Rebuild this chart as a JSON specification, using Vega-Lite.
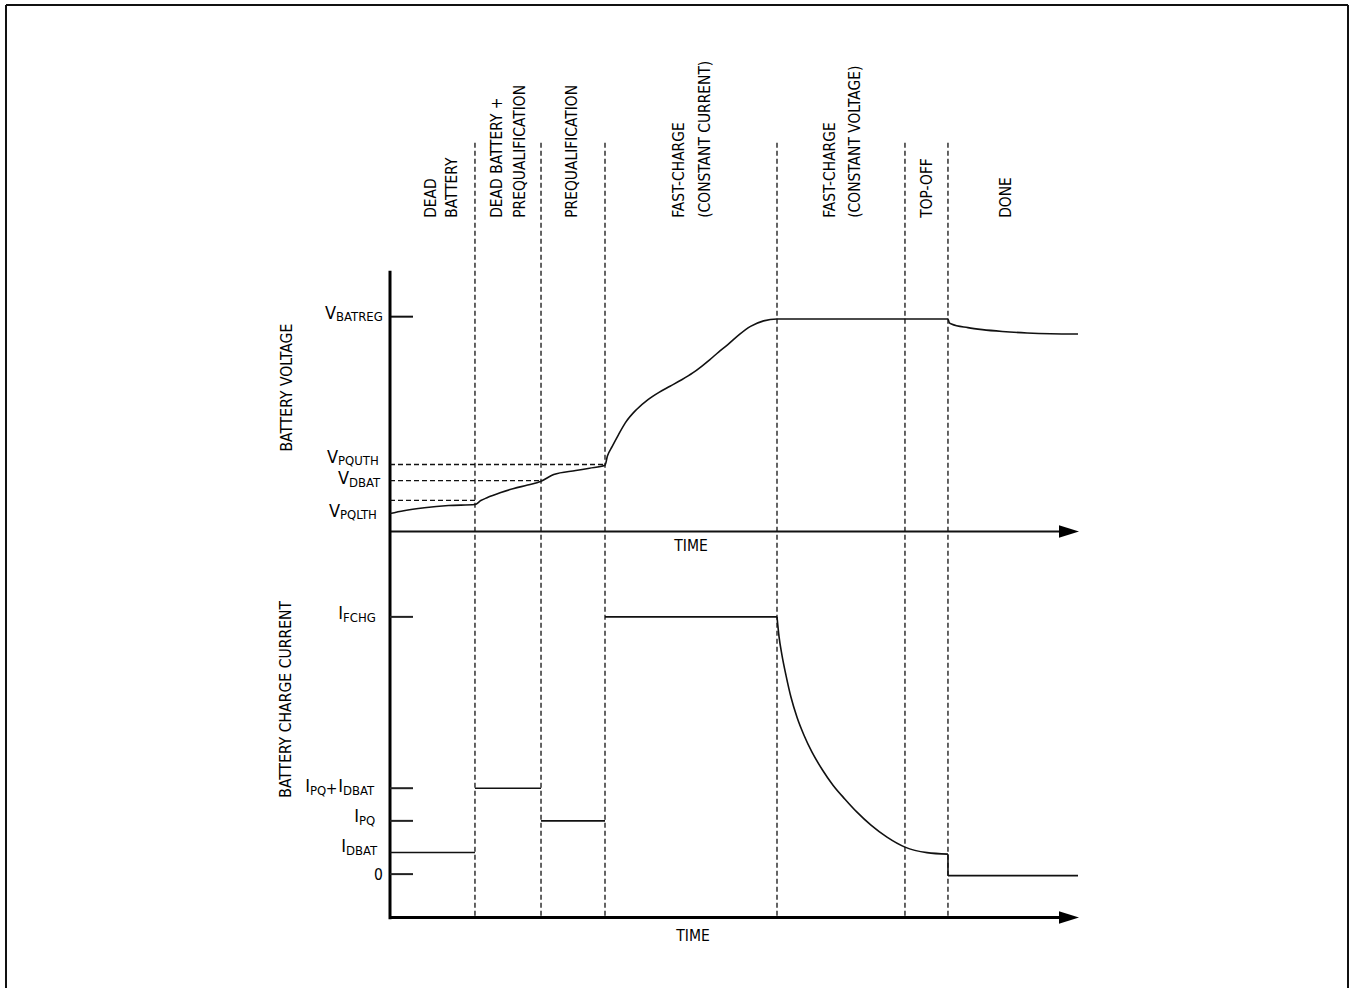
{
  "$schema": "https://vega.github.io/schema/vega-lite/v6.json",
  "width": 1351,
  "height": 989,
  "autosize": {"type": "fit", "contains": "padding"},
  "padding": 0,
  "background": "white",
  "config": {
    "view": {"stroke": null},
    "font": "Liberation Sans Narrow, DejaVu Sans Condensed, sans-serif"
  },
  "datasets": {
    "vsegs": [
      {"kind": "solid2", "t1": -55.814, "t2": -55.814, "v1": 7.4498, "v2": -2.7259},
      {"kind": "solid2", "t1": -55.814, "t2": 139.244, "v1": 7.4498, "v2": 7.4498},
      {"kind": "solid2", "t1": 139.244, "t2": 139.244, "v1": 7.4498, "v2": -2.7259},
      {"kind": "solid2", "t1": 0, "t2": 97.3, "v1": 2.0, "v2": 2.0},
      {"kind": "solid2", "t1": 0, "t2": 3.34, "v1": 4.2234, "v2": 4.2234},
      {"kind": "axis", "t1": 0, "t2": 0, "v1": 4.699, "v2": -2.015},
      {"kind": "dash", "t1": 12.35, "t2": 12.35, "v1": 6.0227, "v2": -1.9917},
      {"kind": "dash", "t1": 21.95, "t2": 21.95, "v1": 6.0227, "v2": -1.9917},
      {"kind": "dash", "t1": 31.25, "t2": 31.25, "v1": 6.0227, "v2": -1.9917},
      {"kind": "dash", "t1": 56.25, "t2": 56.25, "v1": 6.0227, "v2": -1.9917},
      {"kind": "dash", "t1": 74.85, "t2": 74.85, "v1": 6.0227, "v2": -1.9917},
      {"kind": "dash", "t1": 81.1, "t2": 81.1, "v1": 6.0227, "v2": -1.9917},
      {"kind": "dash", "t1": 0, "t2": 31.25, "v1": 2.693, "v2": 2.693},
      {"kind": "dash", "t1": 0, "t2": 21.95, "v1": 2.527, "v2": 2.527},
      {"kind": "dash", "t1": 0, "t2": 12.35, "v1": 2.321, "v2": 2.321}
    ],
    "isegs": [
      {"kind": "axis", "t1": 0, "t2": 97.3, "i1": -16.89, "i2": -16.89},
      {"kind": "tick", "t1": 0, "t2": 3.34, "i1": 100, "i2": 100},
      {"kind": "tick", "t1": 0, "t2": 3.34, "i1": 33.4, "i2": 33.4},
      {"kind": "tick", "t1": 0, "t2": 3.34, "i1": 20.7, "i2": 20.7},
      {"kind": "tick", "t1": 0, "t2": 3.34, "i1": 0, "i2": 0},
      {"kind": "level", "t1": 0, "t2": 12.35, "i1": 8.43, "i2": 8.43},
      {"kind": "level", "t1": 12.35, "t2": 21.95, "i1": 33.4, "i2": 33.4},
      {"kind": "level", "t1": 21.95, "t2": 31.25, "i1": 20.7, "i2": 20.7},
      {"kind": "level", "t1": 31.25, "t2": 56.25, "i1": 100, "i2": 100},
      {"kind": "level", "t1": 81.1, "t2": 81.1, "i1": 7.77, "i2": -0.6},
      {"kind": "level", "t1": 81.1, "t2": 100, "i1": -0.6, "i2": -0.6}
    ],
    "vcurve": [
      {"t": 0, "v": 2.186}, {"t": 2, "v": 2.215}, {"t": 5, "v": 2.245}, {"t": 8.5, "v": 2.268},
      {"t": 12.35, "v": 2.279}, {"t": 13.2, "v": 2.32}, {"t": 14.1, "v": 2.349}, {"t": 16, "v": 2.4},
      {"t": 18, "v": 2.445}, {"t": 20, "v": 2.48}, {"t": 21.95, "v": 2.52}, {"t": 23.8, "v": 2.589},
      {"t": 27, "v": 2.631}, {"t": 29, "v": 2.655}, {"t": 31.25, "v": 2.685}, {"t": 31.6, "v": 2.78},
      {"t": 32.3, "v": 2.88}, {"t": 33.2, "v": 3.0}, {"t": 34.2, "v": 3.124}, {"t": 35.8, "v": 3.26},
      {"t": 37.5, "v": 3.365}, {"t": 39.1, "v": 3.44}, {"t": 40.7, "v": 3.503}, {"t": 42.4, "v": 3.57},
      {"t": 44.0, "v": 3.641}, {"t": 45.3, "v": 3.71}, {"t": 46.5, "v": 3.779}, {"t": 47.8, "v": 3.86},
      {"t": 49.1, "v": 3.934}, {"t": 50.8, "v": 4.04}, {"t": 52.4, "v": 4.123}, {"t": 54.3, "v": 4.18},
      {"t": 56.25, "v": 4.2}, {"t": 74.85, "v": 4.2}, {"t": 81.1, "v": 4.2}, {"t": 81.3, "v": 4.16},
      {"t": 81.6, "v": 4.148}, {"t": 84, "v": 4.11}, {"t": 86.1, "v": 4.089}, {"t": 89, "v": 4.07},
      {"t": 92.6, "v": 4.055}, {"t": 96, "v": 4.047}, {"t": 100, "v": 4.044}
    ],
    "idecay": [
      {"t": 56.25, "i": 100}, {"t": 56.541, "i": 92.43}, {"t": 56.977, "i": 85.05}, {"t": 57.558, "i": 77.28},
      {"t": 58.285, "i": 68.74}, {"t": 59.157, "i": 60.97}, {"t": 60.174, "i": 53.98}, {"t": 61.337, "i": 47.38},
      {"t": 62.791, "i": 40.78}, {"t": 64.39, "i": 34.56}, {"t": 66.134, "i": 29.13}, {"t": 67.878, "i": 24.08},
      {"t": 69.913, "i": 19.03}, {"t": 72.238, "i": 14.37}, {"t": 74.855, "i": 10.49}, {"t": 78.052, "i": 8.35},
      {"t": 81.1, "i": 7.77}
    ],
    "varrow": [{"t": 98.69, "v": 2.0}],
    "iarrow": [{"t": 98.69, "i": -16.89}],
    "vlabels": [
      {"main": "V", "sub": "BATREG", "t": -7.849, "v": 4.254},
      {"main": "V", "sub": "PQUTH", "t": -7.558, "v": 2.765},
      {"main": "V", "sub": "DBAT", "t": -5.959, "v": 2.538},
      {"main": "V", "sub": "PQLTH", "t": -7.267, "v": 2.2017}
    ],
    "ilabels": [
      {"main": "I", "sub": "FCHG", "t": -6.831, "i": 100.97},
      {"main": "I", "sub": "PQ", "t": -11.628, "i": 33.79},
      {"main": "I", "sub": "DBAT", "t": -6.831, "i": 33.79},
      {"main": "I", "sub": "PQ", "t": -4.506, "i": 22.14},
      {"main": "I", "sub": "DBAT", "t": -6.395, "i": 10.49}
    ],
    "vtext": [{"txt": "TIME", "t": 43.75, "v": 1.85}],
    "itext": [
      {"txt": "TIME", "t": 44.04, "i": -23.88},
      {"txt": "+", "t": -8.503, "i": 33.0},
      {"txt": "0", "t": -1.672, "i": -0.39}
    ],
    "titles": [
      {"txt": "BATTERY VOLTAGE", "t": -14.97, "v": 3.489},
      {"txt": "BATTERY CHARGE CURRENT", "t": -15.12, "v": 0.2627}
    ],
    "phases": [
      {"txt": "DEAD", "t": 5.887, "v": 5.247},
      {"txt": "BATTERY", "t": 9.012, "v": 5.247},
      {"txt": "DEAD BATTERY +", "t": 15.552, "v": 5.247},
      {"txt": "PREQUALIFICATION", "t": 18.823, "v": 5.247},
      {"txt": "PREQUALIFICATION", "t": 26.381, "v": 5.247},
      {"txt": "FAST-CHARGE", "t": 42.078, "v": 5.247},
      {"txt": "(CONSTANT CURRENT)", "t": 45.785, "v": 5.247},
      {"txt": "FAST-CHARGE", "t": 64.026, "v": 5.247},
      {"txt": "(CONSTANT VOLTAGE)", "t": 67.515, "v": 5.247},
      {"txt": "TOP-OFF", "t": 78.052, "v": 5.247},
      {"txt": "DONE", "t": 89.535, "v": 5.247}
    ]
  },
  "resolve": {"scale": {"y": "independent"}},
  "layer": [
    {
      "data": {"name": "vsegs"},
      "transform": [{"filter": "datum.kind == 'solid2'"}],
      "mark": {"type": "rule", "strokeWidth": 2, "color": "#111"},
      "encoding": {
        "x": {"field": "t1", "type": "quantitative", "scale": {"domain": [-56.686, 139.68], "nice": false, "zero": false}, "axis": null},
        "x2": {"field": "t2"},
        "y": {"field": "v1", "type": "quantitative", "scale": {"domain": [-2.7259, 7.5015], "nice": false, "zero": false}, "axis": null},
        "y2": {"field": "v2"}
      }
    },
    {
      "data": {"name": "vsegs"},
      "transform": [{"filter": "datum.kind == 'axis'"}],
      "mark": {"type": "rule", "strokeWidth": 3, "color": "#000"},
      "encoding": {
        "x": {"field": "t1", "type": "quantitative", "scale": {"domain": [-56.686, 139.68], "nice": false, "zero": false}, "axis": null},
        "x2": {"field": "t2"},
        "y": {"field": "v1", "type": "quantitative", "scale": {"domain": [-2.7259, 7.5015], "nice": false, "zero": false}, "axis": null},
        "y2": {"field": "v2"}
      }
    },
    {
      "data": {"name": "vsegs"},
      "transform": [{"filter": "datum.kind == 'dash'"}],
      "mark": {"type": "rule", "strokeWidth": 1.3, "strokeDash": [5, 3], "color": "#111"},
      "encoding": {
        "x": {"field": "t1", "type": "quantitative", "scale": {"domain": [-56.686, 139.68], "nice": false, "zero": false}, "axis": null},
        "x2": {"field": "t2"},
        "y": {"field": "v1", "type": "quantitative", "scale": {"domain": [-2.7259, 7.5015], "nice": false, "zero": false}, "axis": null},
        "y2": {"field": "v2"}
      }
    },
    {
      "data": {"name": "vcurve"},
      "mark": {"type": "line", "interpolate": "monotone", "strokeWidth": 1.6, "color": "#111"},
      "encoding": {
        "x": {"field": "t", "type": "quantitative", "scale": {"domain": [-56.686, 139.68], "nice": false, "zero": false}, "axis": null},
        "y": {"field": "v", "type": "quantitative", "scale": {"domain": [-2.7259, 7.5015], "nice": false, "zero": false}, "axis": null}
      }
    },
    {
      "data": {"name": "isegs"},
      "transform": [{"filter": "datum.kind == 'axis'"}],
      "mark": {"type": "rule", "strokeWidth": 3, "color": "#000"},
      "encoding": {
        "x": {"field": "t1", "type": "quantitative", "scale": {"domain": [-56.686, 139.68], "nice": false, "zero": false}, "axis": null},
        "x2": {"field": "t2"},
        "y": {"field": "i1", "type": "quantitative", "scale": {"domain": [-44.272, 339.806], "nice": false, "zero": false}, "axis": null},
        "y2": {"field": "i2"}
      }
    },
    {
      "data": {"name": "isegs"},
      "transform": [{"filter": "datum.kind == 'tick'"}],
      "mark": {"type": "rule", "strokeWidth": 2, "color": "#222"},
      "encoding": {
        "x": {"field": "t1", "type": "quantitative", "scale": {"domain": [-56.686, 139.68], "nice": false, "zero": false}, "axis": null},
        "x2": {"field": "t2"},
        "y": {"field": "i1", "type": "quantitative", "scale": {"domain": [-44.272, 339.806], "nice": false, "zero": false}, "axis": null},
        "y2": {"field": "i2"}
      }
    },
    {
      "data": {"name": "isegs"},
      "transform": [{"filter": "datum.kind == 'level'"}],
      "mark": {"type": "rule", "strokeWidth": 1.6, "color": "#111"},
      "encoding": {
        "x": {"field": "t1", "type": "quantitative", "scale": {"domain": [-56.686, 139.68], "nice": false, "zero": false}, "axis": null},
        "x2": {"field": "t2"},
        "y": {"field": "i1", "type": "quantitative", "scale": {"domain": [-44.272, 339.806], "nice": false, "zero": false}, "axis": null},
        "y2": {"field": "i2"}
      }
    },
    {
      "data": {"name": "idecay"},
      "mark": {"type": "line", "interpolate": "monotone", "strokeWidth": 1.6, "color": "#111"},
      "encoding": {
        "x": {"field": "t", "type": "quantitative", "scale": {"domain": [-56.686, 139.68], "nice": false, "zero": false}, "axis": null},
        "y": {"field": "i", "type": "quantitative", "scale": {"domain": [-44.272, 339.806], "nice": false, "zero": false}, "axis": null}
      }
    },
    {
      "data": {"name": "varrow"},
      "mark": {"type": "point", "shape": "M-1,-0.62L1,0L-1,0.62Z", "size": 400, "filled": true, "color": "#000", "opacity": 1, "strokeWidth": 0},
      "encoding": {
        "x": {"field": "t", "type": "quantitative", "scale": {"domain": [-56.686, 139.68], "nice": false, "zero": false}, "axis": null},
        "y": {"field": "v", "type": "quantitative", "scale": {"domain": [-2.7259, 7.5015], "nice": false, "zero": false}, "axis": null}
      }
    },
    {
      "data": {"name": "iarrow"},
      "mark": {"type": "point", "shape": "M-1,-0.62L1,0L-1,0.62Z", "size": 400, "filled": true, "color": "#000", "opacity": 1, "strokeWidth": 0},
      "encoding": {
        "x": {"field": "t", "type": "quantitative", "scale": {"domain": [-56.686, 139.68], "nice": false, "zero": false}, "axis": null},
        "y": {"field": "i", "type": "quantitative", "scale": {"domain": [-44.272, 339.806], "nice": false, "zero": false}, "axis": null}
      }
    },
    {
      "data": {"name": "vlabels"},
      "mark": {"type": "text", "align": "right", "baseline": "middle", "fontSize": 18, "color": "#000"},
      "encoding": {
        "x": {"field": "t", "type": "quantitative", "scale": {"domain": [-56.686, 139.68], "nice": false, "zero": false}, "axis": null},
        "y": {"field": "v", "type": "quantitative", "scale": {"domain": [-2.7259, 7.5015], "nice": false, "zero": false}, "axis": null},
        "text": {"field": "main"}
      }
    },
    {
      "data": {"name": "vlabels"},
      "mark": {"type": "text", "align": "left", "baseline": "middle", "fontSize": 13, "dy": 3.5, "color": "#000"},
      "encoding": {
        "x": {"field": "t", "type": "quantitative", "scale": {"domain": [-56.686, 139.68], "nice": false, "zero": false}, "axis": null},
        "y": {"field": "v", "type": "quantitative", "scale": {"domain": [-2.7259, 7.5015], "nice": false, "zero": false}, "axis": null},
        "text": {"field": "sub"}
      }
    },
    {
      "data": {"name": "ilabels"},
      "mark": {"type": "text", "align": "right", "baseline": "middle", "fontSize": 18, "color": "#000"},
      "encoding": {
        "x": {"field": "t", "type": "quantitative", "scale": {"domain": [-56.686, 139.68], "nice": false, "zero": false}, "axis": null},
        "y": {"field": "i", "type": "quantitative", "scale": {"domain": [-44.272, 339.806], "nice": false, "zero": false}, "axis": null},
        "text": {"field": "main"}
      }
    },
    {
      "data": {"name": "ilabels"},
      "mark": {"type": "text", "align": "left", "baseline": "middle", "fontSize": 13, "dy": 3.5, "color": "#000"},
      "encoding": {
        "x": {"field": "t", "type": "quantitative", "scale": {"domain": [-56.686, 139.68], "nice": false, "zero": false}, "axis": null},
        "y": {"field": "i", "type": "quantitative", "scale": {"domain": [-44.272, 339.806], "nice": false, "zero": false}, "axis": null},
        "text": {"field": "sub"}
      }
    },
    {
      "data": {"name": "vtext"},
      "mark": {"type": "text", "align": "center", "baseline": "middle", "fontSize": 15.5, "color": "#000"},
      "encoding": {
        "x": {"field": "t", "type": "quantitative", "scale": {"domain": [-56.686, 139.68], "nice": false, "zero": false}, "axis": null},
        "y": {"field": "v", "type": "quantitative", "scale": {"domain": [-2.7259, 7.5015], "nice": false, "zero": false}, "axis": null},
        "text": {"field": "txt"}
      }
    },
    {
      "data": {"name": "itext"},
      "mark": {"type": "text", "align": "center", "baseline": "middle", "fontSize": 15.5, "color": "#000"},
      "encoding": {
        "x": {"field": "t", "type": "quantitative", "scale": {"domain": [-56.686, 139.68], "nice": false, "zero": false}, "axis": null},
        "y": {"field": "i", "type": "quantitative", "scale": {"domain": [-44.272, 339.806], "nice": false, "zero": false}, "axis": null},
        "text": {"field": "txt"}
      }
    },
    {
      "data": {"name": "titles"},
      "mark": {"type": "text", "align": "center", "baseline": "middle", "angle": 270, "fontSize": 15.6, "color": "#000"},
      "encoding": {
        "x": {"field": "t", "type": "quantitative", "scale": {"domain": [-56.686, 139.68], "nice": false, "zero": false}, "axis": null},
        "y": {"field": "v", "type": "quantitative", "scale": {"domain": [-2.7259, 7.5015], "nice": false, "zero": false}, "axis": null},
        "text": {"field": "txt"}
      }
    },
    {
      "data": {"name": "phases"},
      "mark": {"type": "text", "align": "left", "baseline": "middle", "angle": 270, "fontSize": 15.4, "color": "#000"},
      "encoding": {
        "x": {"field": "t", "type": "quantitative", "scale": {"domain": [-56.686, 139.68], "nice": false, "zero": false}, "axis": null},
        "y": {"field": "v", "type": "quantitative", "scale": {"domain": [-2.7259, 7.5015], "nice": false, "zero": false}, "axis": null},
        "text": {"field": "txt"}
      }
    }
  ]
}
